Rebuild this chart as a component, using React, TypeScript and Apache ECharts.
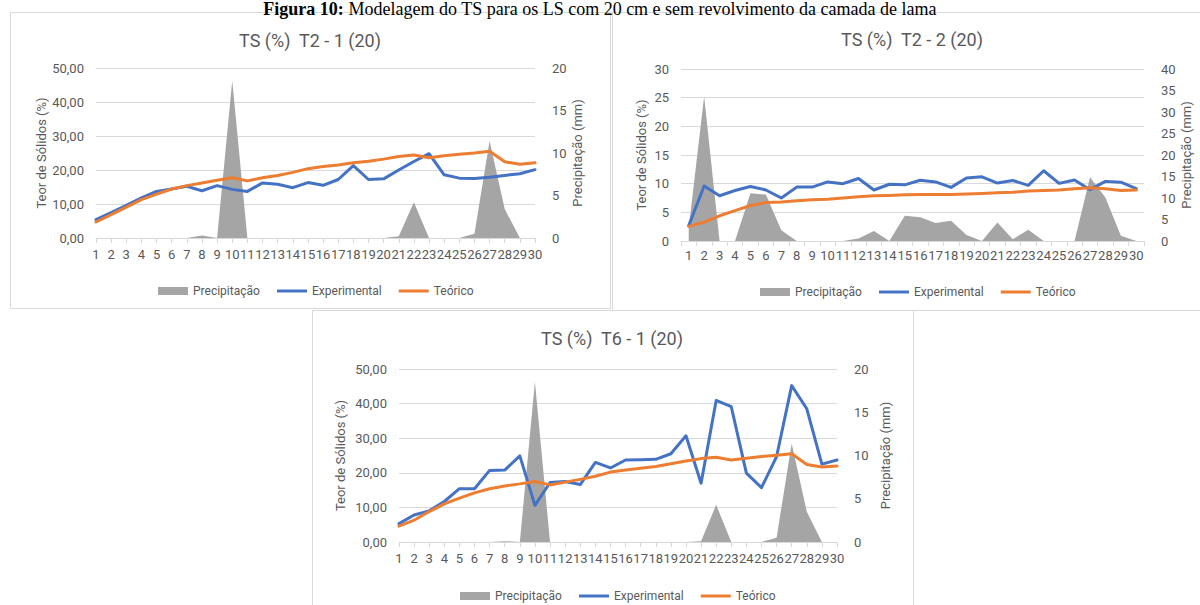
import React, { useEffect, useRef } from "react";
import * as echarts from "echarts";

const days = ["1","2","3","4","5","6","7","8","9","10","11","12","13","14","15","16","17","18","19","20","21","22","23","24","25","26","27","28","29","30"];

// Chart 1: T2 - 1 (20)
const t21Precip = [0,0,0,0,0,0,0,0.3,0,18.5,0,0,0,0,0,0,0,0,0,0,0.2,4.2,0,0,0,0.5,11.4,3.4,0,0];
const t21Exp = [5.4,7.5,9.6,11.8,13.7,14.4,15.2,13.9,15.4,14.3,13.7,16.2,15.8,14.8,16.3,15.5,17.2,21.3,17.2,17.4,20.0,22.5,24.8,18.6,17.6,17.5,17.9,18.4,18.9,20.1];
const t21Teo = [4.7,6.9,9.1,11.3,12.9,14.4,15.4,16.2,17.0,17.7,16.8,17.7,18.4,19.3,20.4,21.0,21.5,22.1,22.6,23.2,24.0,24.4,23.6,24.2,24.6,25.0,25.5,22.4,21.7,22.1];

// Chart 2: T2 - 2 (20)
const t22Precip = [3,33.6,0,0,11.1,10.8,2.5,0,0,0,0,0.6,2.3,0,5.9,5.5,4.2,4.7,1.4,0,4.3,0.4,2.6,0,0,0,14.8,10.1,1.2,0];
const t22Exp = [2.7,9.6,7.9,8.8,9.5,8.9,7.5,9.4,9.4,10.3,10.0,10.9,8.9,9.9,9.8,10.6,10.3,9.35,11.0,11.2,10.1,10.55,9.7,12.25,10.05,10.65,8.95,10.4,10.25,9.15];
const t22Teo = [2.55,3.3,4.4,5.3,6.2,6.7,6.8,7.0,7.2,7.3,7.5,7.7,7.9,7.95,8.05,8.1,8.1,8.1,8.2,8.3,8.4,8.5,8.7,8.8,8.9,9.1,9.3,9.1,8.8,8.9];

// Chart 3: T6 - 1 (20)
const t61Precip = [0,0,0,0,0,0,0,0.1,0,18.5,0,0,0,0,0,0,0,0,0,0,0.1,4.3,0,0,0,0.5,11.4,3.5,0,0];
const t61Exp = [5.3,7.8,9.0,11.7,15.4,15.4,20.7,20.8,24.9,10.6,17.2,17.5,16.6,23.0,21.4,23.7,23.8,23.9,25.5,30.7,17.0,40.9,39.1,19.9,15.7,24.7,45.2,38.5,22.5,23.7];
const t61Teo = [4.6,6.3,8.8,11.0,12.7,14.2,15.4,16.2,16.8,17.5,16.5,17.3,18.1,19.0,20.2,20.8,21.3,21.8,22.6,23.4,24.1,24.5,23.7,24.2,24.7,25.1,25.5,22.4,21.7,22.0];

const chartTitles = ["TS (%)  T2 - 1 (20)", "TS (%)  T2 - 2 (20)", "TS (%)  T6 - 1 (20)"];
const caption = "Modelagem do TS para os LS com 20 cm e sem revolvimento da camada de lama";
const leftName = "Teor de Sólidos (%)";
const rightName = "Precipitação (mm)";

const FONT = "Roboto";
const TXT = "#595959";
const GRID = "#d9d9d9";
const BLUE = "#4472C4";
const ORANGE = "#ED7D31";
const GRAY = "#A5A5A5";

const commaFmt = (v: number) => v.toFixed(2).replace(".", ",");

export default function App() {
  const ref = useRef<HTMLDivElement>(null);
  useEffect(() => {
    if (!ref.current) return;
    const chart = echarts.init(ref.current, null, { renderer: "svg" });

    const panels = [
      { grid: { left: 96, right: 665, top: 68, bottom: 367 }, gap: false, lmax: 50, lint: 10, rmax: 20, fmt: commaFmt, lGap: 48, rGap: 33, xMargin: 10,
        precip: t21Precip, exp: t21Exp, teo: t21Teo, title: { x: 310, y: 40 }, legA: { left: 153, top: 280 }, legB: { left: 272, top: 280 } },
      { grid: { left: 681, right: 56, top: 69, bottom: 364 }, gap: true, lmax: 30, lint: 5, rmax: 40, fmt: (v: number) => String(v), lGap: 33, rGap: 35, xMargin: 8,
        precip: t22Precip, exp: t22Exp, teo: t22Teo, title: { x: 912, y: 39 }, legA: { left: 755, top: 281 }, legB: { left: 874, top: 281 } },
      { grid: { left: 399, right: 363, top: 369, bottom: 63 }, gap: false, lmax: 50, lint: 10, rmax: 20, fmt: commaFmt, lGap: 52, rGap: 42, xMargin: 10,
        precip: t61Precip, exp: t61Exp, teo: t61Teo, title: { x: 612, y: 338 }, legA: { left: 455, top: 585 }, legB: { left: 574, top: 585 } },
    ];

    const grid: any[] = [];
    const xAxis: any[] = [];
    const yAxis: any[] = [];
    const series: any[] = [];
    const legend: any[] = [];
    const graphic: any[] = [];

    graphic.push(
      { type: "rect", shape: { x: 10.5, y: 12.5, width: 600, height: 296 }, style: { fill: "none", stroke: GRID, lineWidth: 1 } },
      { type: "rect", shape: { x: 612.5, y: 12.5, width: 600, height: 298 }, style: { fill: "none", stroke: GRID, lineWidth: 1 } },
      { type: "rect", shape: { x: 312.5, y: 310.5, width: 601, height: 300 }, style: { fill: "#fff", stroke: GRID, lineWidth: 1 } },
      { type: "text", x: 600, y: 0, z: 10, style: { text: "{b|Figura 10:} " + caption, align: "center", verticalAlign: "top", font: '18px "Liberation Serif"', fill: "#000",
        rich: { b: { fontWeight: "bold", fontFamily: "Liberation Serif", fontSize: 18, fill: "#000" } } } }
    );

    panels.forEach((p, i) => {
      grid.push({ ...p.grid, containLabel: false });
      xAxis.push({
        type: "category", gridIndex: i, data: days, boundaryGap: p.gap,
        axisLine: { show: true, lineStyle: { color: GRID, width: 1 } },
        axisTick: { show: true, length: 5, lineStyle: { color: GRID } },
        axisLabel: { interval: 0, color: TXT, fontSize: 13, fontFamily: FONT, margin: p.xMargin },
        splitLine: { show: false },
      });
      yAxis.push({
        type: "value", gridIndex: i, min: 0, max: p.lmax, interval: p.lint, position: "left",
        axisLine: { show: false }, axisTick: { show: false },
        axisLabel: { color: TXT, fontSize: 13, fontFamily: FONT, margin: 12, formatter: p.fmt },
        splitLine: { show: true, lineStyle: { color: GRID, width: 1 } },
        name: leftName, nameLocation: "middle", nameGap: p.lGap,
        nameTextStyle: { color: TXT, fontSize: 13, fontFamily: FONT },
      });
      yAxis.push({
        type: "value", gridIndex: i, min: 0, max: p.rmax, interval: 5, position: "right",
        axisLine: { show: false }, axisTick: { show: false },
        axisLabel: { color: TXT, fontSize: 13, fontFamily: FONT, margin: 17 },
        splitLine: { show: false },
        name: rightName, nameLocation: "middle", nameGap: p.rGap,
        nameTextStyle: { color: TXT, fontSize: 13, fontFamily: FONT },
      });
      series.push({
        name: "Precipitação", type: "line", xAxisIndex: i, yAxisIndex: i * 2 + 1, data: p.precip,
        symbol: "none", color: GRAY, lineStyle: { width: 0 }, areaStyle: { color: GRAY, opacity: 1 }, z: 1,
      });
      series.push({
        name: "Experimental", type: "line", xAxisIndex: i, yAxisIndex: i * 2, data: p.exp,
        symbol: "none", color: BLUE, lineStyle: { width: 3, color: BLUE, cap: "round", join: "round" }, z: 2,
      });
      series.push({
        name: "Teórico", type: "line", xAxisIndex: i, yAxisIndex: i * 2, data: p.teo,
        symbol: "none", color: ORANGE, lineStyle: { width: 3, color: ORANGE, cap: "round", join: "round" }, z: 3,
      });
      legend.push({
        left: p.legA.left, top: p.legA.top, selectedMode: false, itemWidth: 30, itemHeight: 8, itemGap: 20,
        data: [{ name: "Precipitação", icon: "rect" }], itemStyle: { borderWidth: 0 },
        textStyle: { color: TXT, fontSize: 12, fontFamily: FONT },
      });
      legend.push({
        left: p.legB.left, top: p.legB.top, selectedMode: false, itemWidth: 30, itemHeight: 3, itemGap: 17,
        data: [{ name: "Experimental", icon: "rect" }, { name: "Teórico", icon: "rect" }], itemStyle: { borderWidth: 0 },
        textStyle: { color: TXT, fontSize: 12, fontFamily: FONT },
      });
      graphic.push({
        type: "text", x: p.title.x, y: p.title.y, z: 10,
        style: { text: chartTitles[i], align: "center", verticalAlign: "middle", font: `18px ${FONT}`, fill: TXT },
      });
    });

    chart.setOption({
      animation: false,
      backgroundColor: "#ffffff",
      grid, xAxis, yAxis, series, legend, graphic,
    });
    return () => chart.dispose();
  }, []);

  return <div ref={ref} style={{ position: "fixed", left: 0, top: 0, width: 1200, height: 605, background: "#fff" }} />;
}
